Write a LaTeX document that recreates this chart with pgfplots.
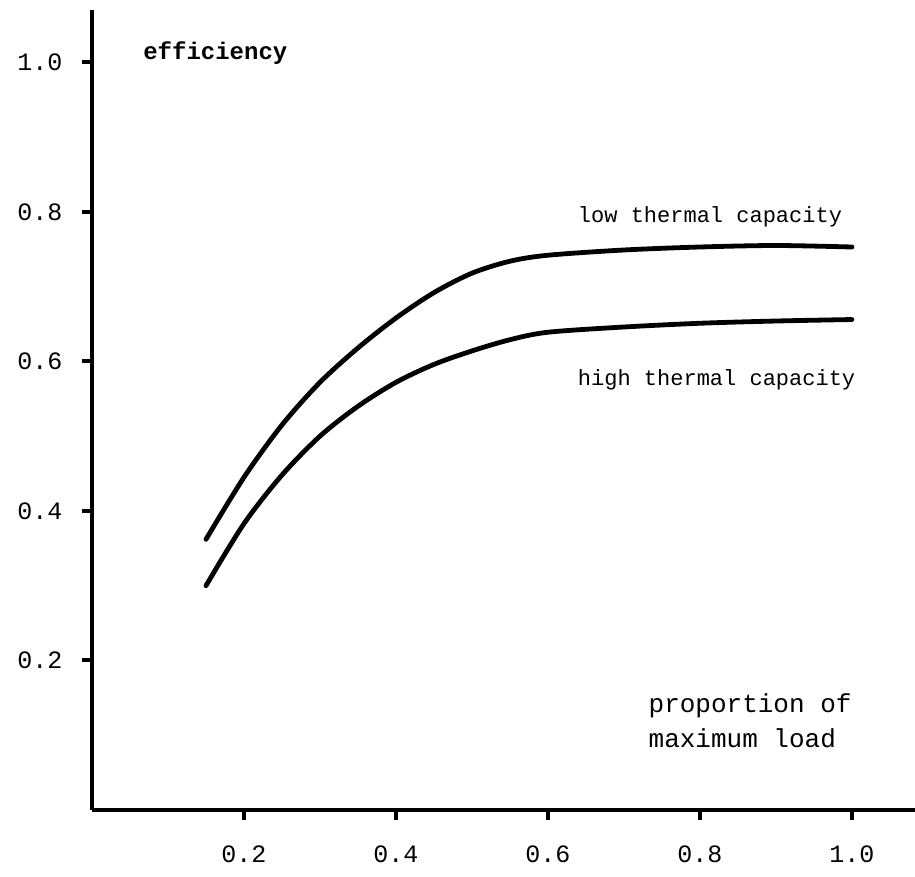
\documentclass[border=0pt]{standalone}
\usepackage{fontspec}
\setmainfont{Liberation Mono}
\usepackage{pgfplots}
\pgfplotsset{compat=1.18}

\begin{document}
\fontsize{11}{13}\selectfont
\begin{tikzpicture}
% fixed page size: 915x877 px at 0.5pt per px, axis corner at origin
\useasboundingbox (-46pt,-33.5pt) rectangle (411.5pt,405pt);
\begin{axis}[
    scale only axis,
    width=411.5pt, height=400pt,
    xmin=0, xmax=1.083,
    ymin=0, ymax=1.07,
    axis x line*=bottom,
    axis y line*=left,
    axis line style={line width=2pt, -},
    xtick={0.2,0.4,0.6,0.8,1.0},
    xticklabels={0.2,0.4,0.6,0.8,1.0},
    ytick={0.2,0.4,0.6,0.8,1.0},
    yticklabels={0.2,0.4,0.6,0.8,1.0},
    tick align=outside,
    major tick length=5pt,
    tick style={line width=2pt, black},
    xticklabel style={font=\fontsize{12.5}{14}\selectfont, yshift=-9pt},
    yticklabel style={font=\fontsize{12.5}{14}\selectfont, xshift=-6pt},
    clip=false,
]
% low thermal capacity
\addplot[line width=2.4pt, smooth, line cap=round] coordinates {
    (0.15,0.362) (0.20,0.445) (0.25,0.515) (0.30,0.572) (0.35,0.618)
    (0.40,0.658) (0.45,0.692) (0.50,0.718) (0.55,0.734) (0.60,0.742)
    (0.70,0.749) (0.80,0.753) (0.90,0.755) (1.0,0.753)
};
% high thermal capacity
\addplot[line width=2.4pt, smooth, line cap=round] coordinates {
    (0.15,0.300) (0.20,0.383) (0.25,0.448) (0.30,0.500) (0.35,0.540)
    (0.40,0.572) (0.45,0.596) (0.50,0.614) (0.55,0.629) (0.60,0.639)
    (0.70,0.646) (0.80,0.651) (0.90,0.654) (1.0,0.656)
};
\node[anchor=west, inner sep=0pt, font=\bfseries\fontsize{12}{14}\selectfont] at (axis cs:0.067,1.012) {efficiency};
\node[anchor=west, inner sep=0pt] at (axis cs:0.639,0.793) {low thermal capacity};
\node[anchor=west, inner sep=0pt] at (axis cs:0.639,0.575) {high thermal capacity};
\node[anchor=west, inner sep=0pt, align=left, font=\fontsize{13}{17.5}\selectfont] at (axis cs:0.732,0.119) {proportion of\\maximum load};
\end{axis}
\end{tikzpicture}
\end{document}
